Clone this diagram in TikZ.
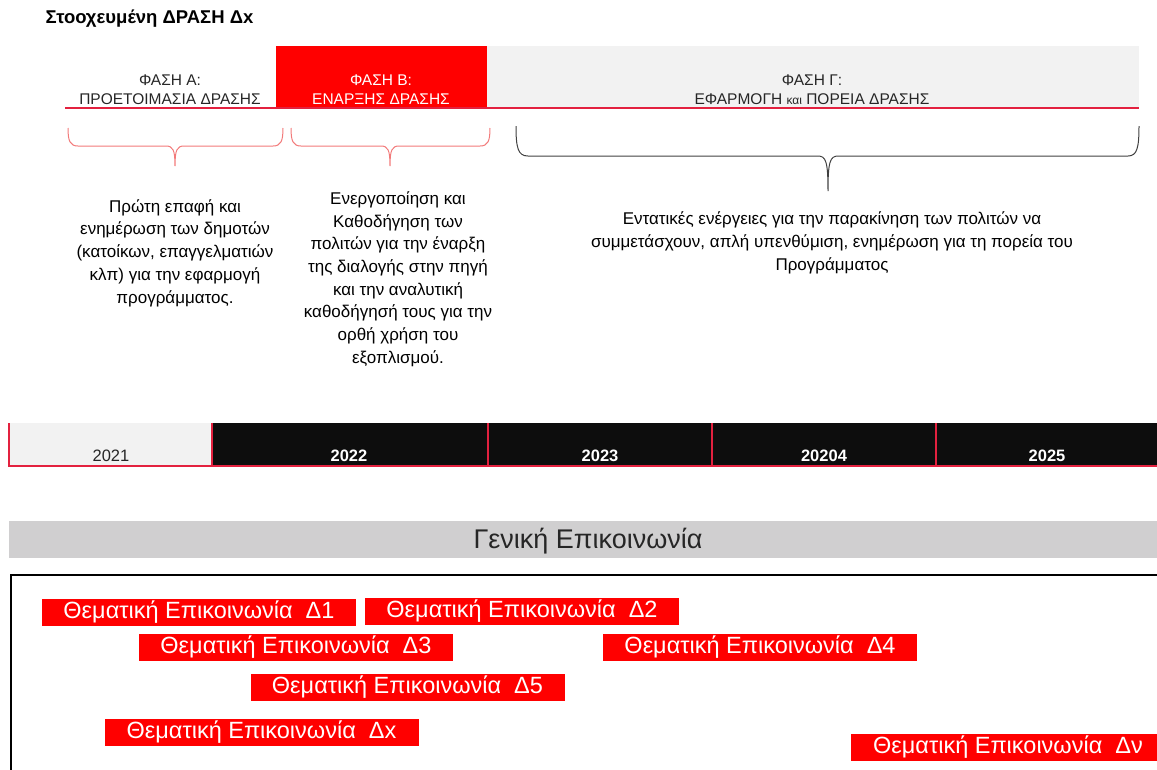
\documentclass[tikz,border=0pt]{standalone}
\usepackage{fontspec}
\setmainfont{Liberation Sans}

\definecolor{boxred}{HTML}{FF0000}
\definecolor{linered}{HTML}{E3213F}
\definecolor{bracered}{HTML}{F27A7A}
\definecolor{bracegray}{HTML}{404040}
\definecolor{cellblack}{HTML}{0D0D0D}
\definecolor{cellgray}{HTML}{F2F2F2}
\definecolor{bandgray}{HTML}{D0CFD0}
\definecolor{inkgray}{HTML}{262626}

\tikzset{
  phasetext/.style={align=center, text=inkgray, font=\fontsize{15.5}{19}\selectfont},
  desctext/.style={align=center, text=black, font=\fontsize{17}{22.7}\selectfont},
  yeartext/.style={text=white, font=\fontsize{16.5}{16.5}\selectfont\bfseries},
  themebox/.style={fill=boxred, text=white, minimum width=314pt, minimum height=27pt,
    inner sep=0pt, font=\fontsize{23.5}{23.5}\selectfont},
}

\begin{document}
\begin{tikzpicture}[x=1pt,y=-1pt]
  \clip (0,0) rectangle (1157,769);
  \node[anchor=west, text=black, font=\fontsize{18.5}{18.5}\selectfont\bfseries] (title) at (42,18.5) {Στοοχευμένη ΔΡΑΣΗ Δx};

  % phases
  \fill[boxred] (276,46) rectangle (487,108);
  \fill[cellgray] (487,46) rectangle (1139,108);
  \draw[linered, line width=1.5pt] (65,108) -- (1139,108);
  \node[phasetext] (phaseA) at (170,89.5) {ΦΑΣΗ Α:\\ΠΡΟΕΤΟΙΜΑΣΙΑ ΔΡΑΣΗΣ};
  \node[phasetext, text=white] (phaseB) at (381,89.5) {ΦΑΣΗ Β:\\ΕΝΑΡΞΗΣ ΔΡΑΣΗΣ};
  \node[phasetext] (phaseC) at (812,89.5) {ΦΑΣΗ Γ:\\ΕΦΑΡΜΟΓΗ {\fontsize{12}{12}\selectfont και} ΠΟΡΕΙΑ ΔΡΑΣΗΣ};

  % braces
  \draw[bracered, line width=1pt]
    (68,128) .. controls (68,141) and (70,146) .. (78,146) -- (166,146)
    .. controls (173,146) and (175,150) .. (175,166)
    .. controls (175,150) and (177,146) .. (184,146) -- (273,146)
    .. controls (281,146) and (283,141) .. (283,128);
  \draw[bracered, line width=1pt]
    (291,128) .. controls (291,141) and (293,146) .. (301,146) -- (381,146)
    .. controls (388,146) and (390,150) .. (390,166)
    .. controls (390,150) and (392,146) .. (399,146) -- (480,146)
    .. controls (488,146) and (490,141) .. (490,128);
  \draw[bracegray, line width=1pt]
    (516,126) .. controls (516,148) and (518,156) .. (528,156) -- (818,156)
    .. controls (826,156) and (828,162) .. (828,191)
    .. controls (828,162) and (830,156) .. (838,156) -- (1128,156)
    .. controls (1137,156) and (1139,148) .. (1139,126);

  % descriptions
  \node[desctext] (descA) at (175,253) {Πρώτη επαφή και\\ενημέρωση των δημοτών\\(κατοίκων, επαγγελματιών\\κλπ) για την εφαρμογή\\προγράμματος.};
  \node[desctext] (descB) at (398,279) {Ενεργοποίηση και\\Καθοδήγηση των\\πολιτών για την έναρξη\\της διαλογής στην πηγή\\και την αναλυτική\\καθοδήγησή τους για την\\ορθή χρήση του\\εξοπλισμού.};
  \node[desctext] (descC) at (832,243) {Εντατικές ενέργειες για την παρακίνηση των πολιτών να\\συμμετάσχουν, απλή υπενθύμιση, ενημέρωση για τη πορεία του\\Προγράμματος};

  % timeline
  \fill[cellgray] (9,423) rectangle (212,467);
  \fill[cellblack] (212,423) rectangle (1157,467);
  \foreach \x in {9,212,488,712,936}
    \draw[linered, line width=1.2pt] (\x,423) -- (\x,467);
  \draw[linered, line width=2pt] (9,466) -- (1157,466);
  \node[yeartext, text=inkgray, font=\fontsize{16.5}{16.5}\selectfont] (year2021) at (111,456) {2021};
  \foreach \cx/\yr in {349/2022, 600/2023, 824/20204, 1047/2025}
    \node[yeartext] (year\yr) at (\cx,456) {\yr};

  % communication
  \fill[bandgray] (9,521) rectangle (1157,558);
  \node[text=inkgray, font=\fontsize{27}{27}\selectfont] (general) at (588,541) {Γενική Επικοινωνία};
  \draw[line width=2pt] (11,575) rectangle (1180,800);
  \foreach \id/\lbl/\cx/\cy in {1/1/199/612, 2/2/522/611.5, 3/3/296/647.5, 4/4/760/647.5,
      5/5/407.5/687, x/x/261.5/732, v/ν/1008/747}
    \node[themebox] (theme\id) at (\cx,\cy) {Θεματική Επικοινωνία\ \ Δ\lbl};
\end{tikzpicture}
\end{document}
